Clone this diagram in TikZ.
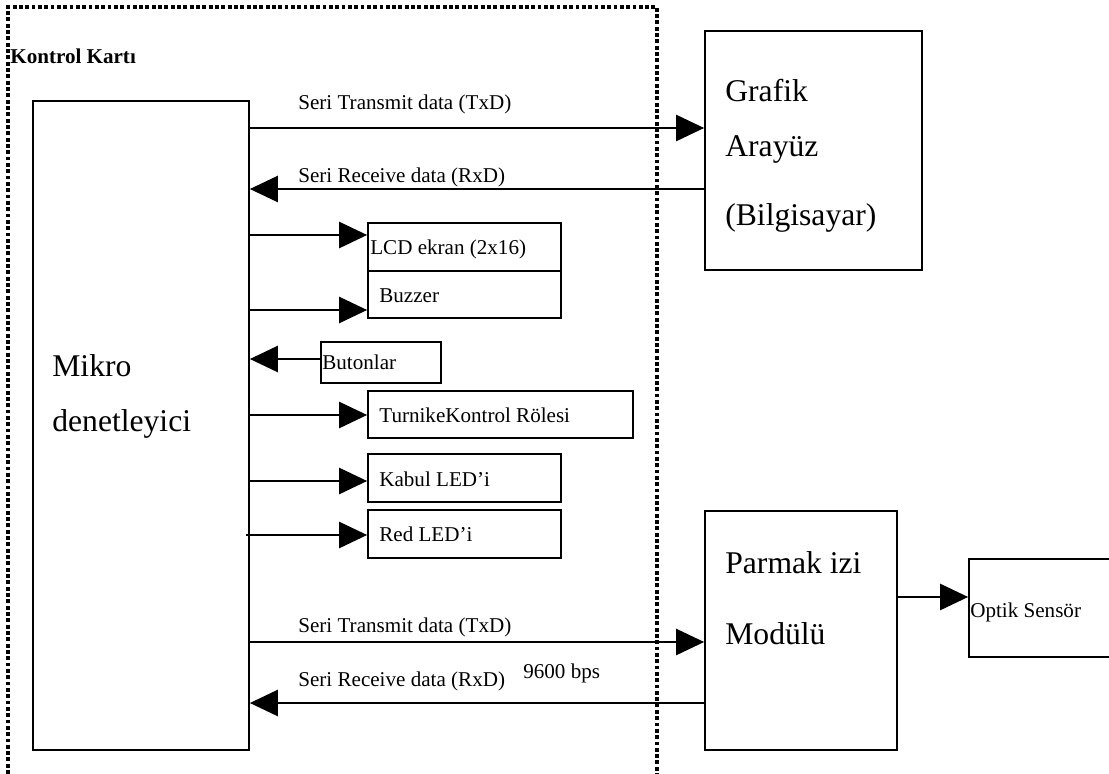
\documentclass[tikz,border=0pt]{standalone}
\usepackage{fontspec}
\setmainfont{Liberation Serif}
\usetikzlibrary{arrows.meta,fit,calc}
\begin{document}
\begin{tikzpicture}
  [x=0.02cm,y=-0.02cm,
   box/.style={draw,line width=1pt,inner sep=0pt},
   lbl/.style={inner sep=0pt,anchor=base west,font=\fontsize{12}{14}\selectfont},
   big/.style={inner sep=0pt,anchor=base west,font=\fontsize{18}{21}\selectfont},
   arr/.style={line width=1pt,-{Triangle[length=16pt,width=15pt]}},
   kart/.style={line width=2pt,dash pattern=on 2.2pt off 1.4pt}]
  \useasboundingbox (0,0) rectangle (1109,774);

  % kontrol karti
  \draw[kart] (8,774) -- (8,7) -- (657,7) -- (657,774);
  \node[lbl,font=\fontsize{12}{14}\selectfont\bfseries] (kk) at (10,63) {Kontrol Kartı};

  % bloklar
  \node[box,fit={(33,101) (249,750)}] (mikro) {};
  \node[box,fit={(705,31) (922,270)}] (grafik) {};
  \node[box,fit={(705,511) (897,750)}] (parmak) {};
  \node[box,fit={(969,559) (1125,657)}] (optik) {};
  \node[box,fit={(368,223) (561,271)}] (lcd) {};
  \node[box,fit={(368,271) (561,318)}] (buz) {};
  \node[box,fit={(321,342) (441,383)}] (but) {};
  \node[box,fit={(368,391) (633,438)}] (tur) {};
  \node[box,fit={(368,454) (561,502)}] (kab) {};
  \node[box,fit={(368,510) (561,558)}] (red) {};

  % yazilar
  \node[big] (t1) at (52,376) {Mikro};
  \node[big] (t2) at (52,431) {denetleyici};
  \node[big] (t3) at (725,101) {Grafik};
  \node[big] (t4) at (725,156) {Arayüz};
  \node[big] (t5) at (725,225) {(Bilgisayar)};
  \node[big] (t6) at (725,573) {Parmak izi};
  \node[big] (t7) at (725,644) {Modülü};
  \node[lbl] (t8) at (970,617) {Optik Sensör};
  \node[lbl] (t9) at (370,254) {LCD ekran (2x16)};
  \node[lbl] (t10) at (379,302) {Buzzer};
  \node[lbl] (t11) at (322,369) {Butonlar};
  \node[lbl] (t12) at (379,422) {TurnikeKontrol Rölesi};
  \node[lbl] (t13) at (379,486) {Kabul LED’i};
  \node[lbl] (t14) at (379,541) {Red LED’i};
  \node[lbl] (s1) at (298,109) {Seri Transmit data (TxD)};
  \node[lbl] (s2) at (298,182) {Seri Receive data (RxD)};
  \node[lbl] (s3) at (298,632) {Seri Transmit data (TxD)};
  \node[lbl] (s4) at (298,686) {Seri Receive data (RxD)};
  \node[lbl] (bps) at (523,678) {9600 bps};

  % baglantilar
  \draw[arr] (mikro.east |- 0,128) -- (grafik.west |- 0,128);
  \draw[arr] (grafik.west |- 0,189) -- (mikro.east |- 0,189);
  \foreach \to/\y in {lcd/235,buz/310,tur/415,kab/481}
    \draw[arr] (mikro.east |- 0,\y) -- (\to.west |- 0,\y);
  \draw[arr] ($(mikro.east |- 0,535)+(-4,0)$) -- (red.west |- 0,535);
  \draw[arr] (but.west |- 0,359) -- (mikro.east |- 0,359);
  \draw[arr] (mikro.east |- 0,642) -- (parmak.west |- 0,642);
  \draw[arr] (parmak.west |- 0,703) -- (mikro.east |- 0,703);
  \draw[arr] (parmak.east |- 0,597) -- (optik.west |- 0,597);

\end{tikzpicture}
\end{document}
